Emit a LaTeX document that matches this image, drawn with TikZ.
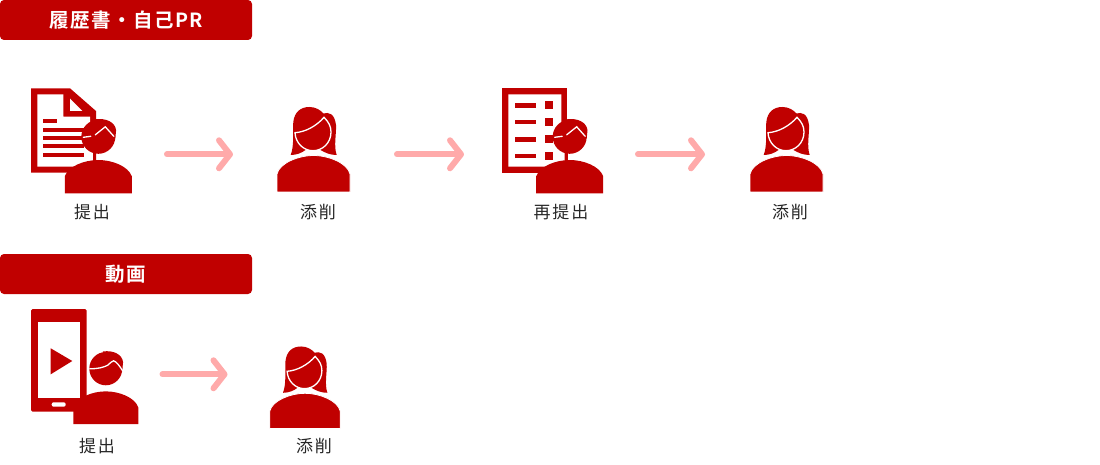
\documentclass[tikz,border=0pt]{standalone}
\usepackage{fontspec}
\usepackage{tikz}
\usetikzlibrary{arrows.meta}
\newfontfamily\jpfont[LetterSpace=11]{Noto Sans CJK JP}
\newfontfamily\jpbold[LetterSpace=7.7]{Noto Sans CJK JP Bold}
\definecolor{brandred}{HTML}{C00000}
\definecolor{arrowpink}{HTML}{FFAAAA}

\newcommand{\personhead}{%
	\fill (0,-56.5) circle (17);
	\fill (-3,-74) .. controls (8,-75.5) and (17,-71) .. (17.8,-63) -- (17,-55) -- (0,-57) -- cycle;
	\fill (-33.5,0) -- (-33.5,-17) .. controls (-30,-27) and (-14,-33.3) .. (0,-33.3) .. controls (14,-33.3) and (30,-27) .. (33.5,-17) -- (33.5,0) -- cycle;
}

\begin{document}
\begin{tikzpicture}
[
	x = 1pt, y = -1pt,
	header/.style	= {fill = brandred, rounded corners = 4pt, minimum width = 252pt, minimum height = 40pt, inner sep = 0pt, text = white, font = \jpbold\fontsize{19.5}{19.5}\selectfont},
	caption/.style	= {inner sep = 0pt, text = black!85, font = \jpfont\fontsize{17}{18}\selectfont},
	flow/.style	= {arrowpink, line width = 6pt, line cap = round, -{Straight Barb[length = 11pt, width = 28pt, round]}},
	whiteline/.style = {draw = white, line width = 1.3pt, fill = none},
	woman/.pic = {
		\fill [brandred] (-22.8,-37) .. controls (-19,-47) and (-21,-60) .. (-20.2,-70) .. controls (-19,-80) and (-13,-85) .. (-4,-85) .. controls (2,-85) and (7,-82) .. (10,-78.5) .. controls (15,-80) and (21,-79) .. (22.5,-67) .. controls (23,-58) and (20,-46) .. (23.2,-37) .. controls (17,-37) and (12,-39) .. (7,-42) -- (-8,-42) .. controls (-12,-39) and (-17,-37) .. (-22.8,-37) -- cycle;
		\draw [whiteline] (-18.5,-59.3) .. controls (-8,-60) and (3,-66) .. (10.5,-74.7) .. controls (15,-70) and (17.5,-66) .. (17.5,-60) .. controls (17.5,-49) and (9,-41.3) .. (-0.5,-41.3) .. controls (-10,-41.3) and (-18,-49) .. (-18.5,-59.3) -- cycle;
		\draw [fill = brandred, draw = white, line width = 0.8pt] (-36.5,0) -- (-36.5,-18) .. controls (-34,-29) and (-15,-36.5) .. (0,-36.5) .. controls (15,-36.5) and (34,-29) .. (36.5,-18) -- (36.5,0) -- cycle;
	},
	man/.pic = {
		\begin{scope}[brandred]
			\personhead
		\end{scope}
		\fill [brandred] (-5,-32) rectangle (-2,-42);
		\draw [whiteline, line cap = round] (-15,-56) -- (-7.5,-57);
		\draw [whiteline, line cap = round] (-3,-58.5) -- (7,-66.5) -- (15.5,-57);
	},
	manplain/.pic = {
		\begin{scope}[brandred]
			\personhead
		\end{scope}
		\draw [whiteline] (-17,-56.5) .. controls (-8,-56) and (-2,-58) .. (2,-60) .. controls (5,-62) and (6,-64.5) .. (8,-64.5) .. controls (11,-64) and (15,-58) .. (17.5,-54);
	},
]
	\useasboundingbox (0,0) rectangle (1100,465);

	\node (header1) [header] at (126,20) {\raisebox{-1pt}{履歴書・自己PR}};
	\node (header2) [header] at (126,274) {\raisebox{-1pt}{動画}};

	% paper
	\fill [brandred] (31,88.3) -- (70,88.3) -- (96,111) -- (96,172.7) -- (31,172.7) -- cycle;
	\fill [white] (37.3,94.3) -- (63.3,94.3) -- (63.3,116.7) -- (90,116.7) -- (90,150) -- (93.5,150) -- (93.5,166.7) -- (37.3,166.7) -- cycle;
	\fill [white] (70,98.5) -- (82.3,111) -- (70,111) -- cycle;
	\fill [brandred] (43.3,119.3) rectangle (57.3,123.3);
	\foreach \liney in {127.7,135.7,144.3,153}
		\fill [brandred] (43.3,\liney) rectangle (84,\liney+4);
	\pic at (98.3,193.3) {man};

	% list
	\fill [brandred] (502,88.3) rectangle (567,172.7);
	\fill [white] (508.3,94.3) -- (561.3,94.3) -- (561.3,150) -- (564.5,150) -- (564.5,166.7) -- (508.3,166.7) -- cycle;
	\foreach \liney/\boxy in {103.3/101,120/117.7,137.3/135,154/151.7} {
		\fill [brandred] (515.3,\liney) rectangle (536.3,\liney+4.4);
		\fill [brandred] (545,\boxy) rectangle (553.3,\boxy+8.3);
	}
	\pic at (569.7,193.3) {man};

	% phone
	\fill [brandred, rounded corners = 1.5pt] (31,309) rectangle (86.7,411.7);
	\fill [white] (37.7,322.3) rectangle (80,397.7);
	\fill [brandred] (50.7,348.3) -- (72.3,361) -- (50.7,374.3) -- cycle;
	\fill [white, rounded corners = 2pt] (51.7,402.3) rectangle (65.7,406.7);
	\pic [xscale = 0.97, yscale = 0.98] at (105.8,424) {manplain};

	\pic at (313.5,192) {woman};
	\pic at (786.5,192) {woman};
	\pic [scale = 0.965] at (305,428.5) {woman};

	\node (submit1) [caption] at (92,212) {提出};
	\node (check1) [caption] at (318,212.5) {添削};
	\node (resubmit) [caption] at (561,212.5) {再提出};
	\node (check2) [caption] at (790,212.5) {添削};
	\node (submit2) [caption] at (97,446.5) {提出};
	\node (check3) [caption] at (314,446.5) {添削};

	\coordinate (from1) at (167,154.3);
	\coordinate (to1) at (233,154.3);
	\coordinate (from2) at (397,154.3);
	\coordinate (to2) at (464,154.3);
	\coordinate (from3) at (638,154.3);
	\coordinate (to3) at (705,154.3);
	\coordinate (from4) at (162.5,374.3);
	\coordinate (to4) at (227.5,374.3);

	\foreach \arrownum in {1,2,3,4}
		\draw [flow] (from\arrownum) -- (to\arrownum);

\end{tikzpicture}
\end{document}
